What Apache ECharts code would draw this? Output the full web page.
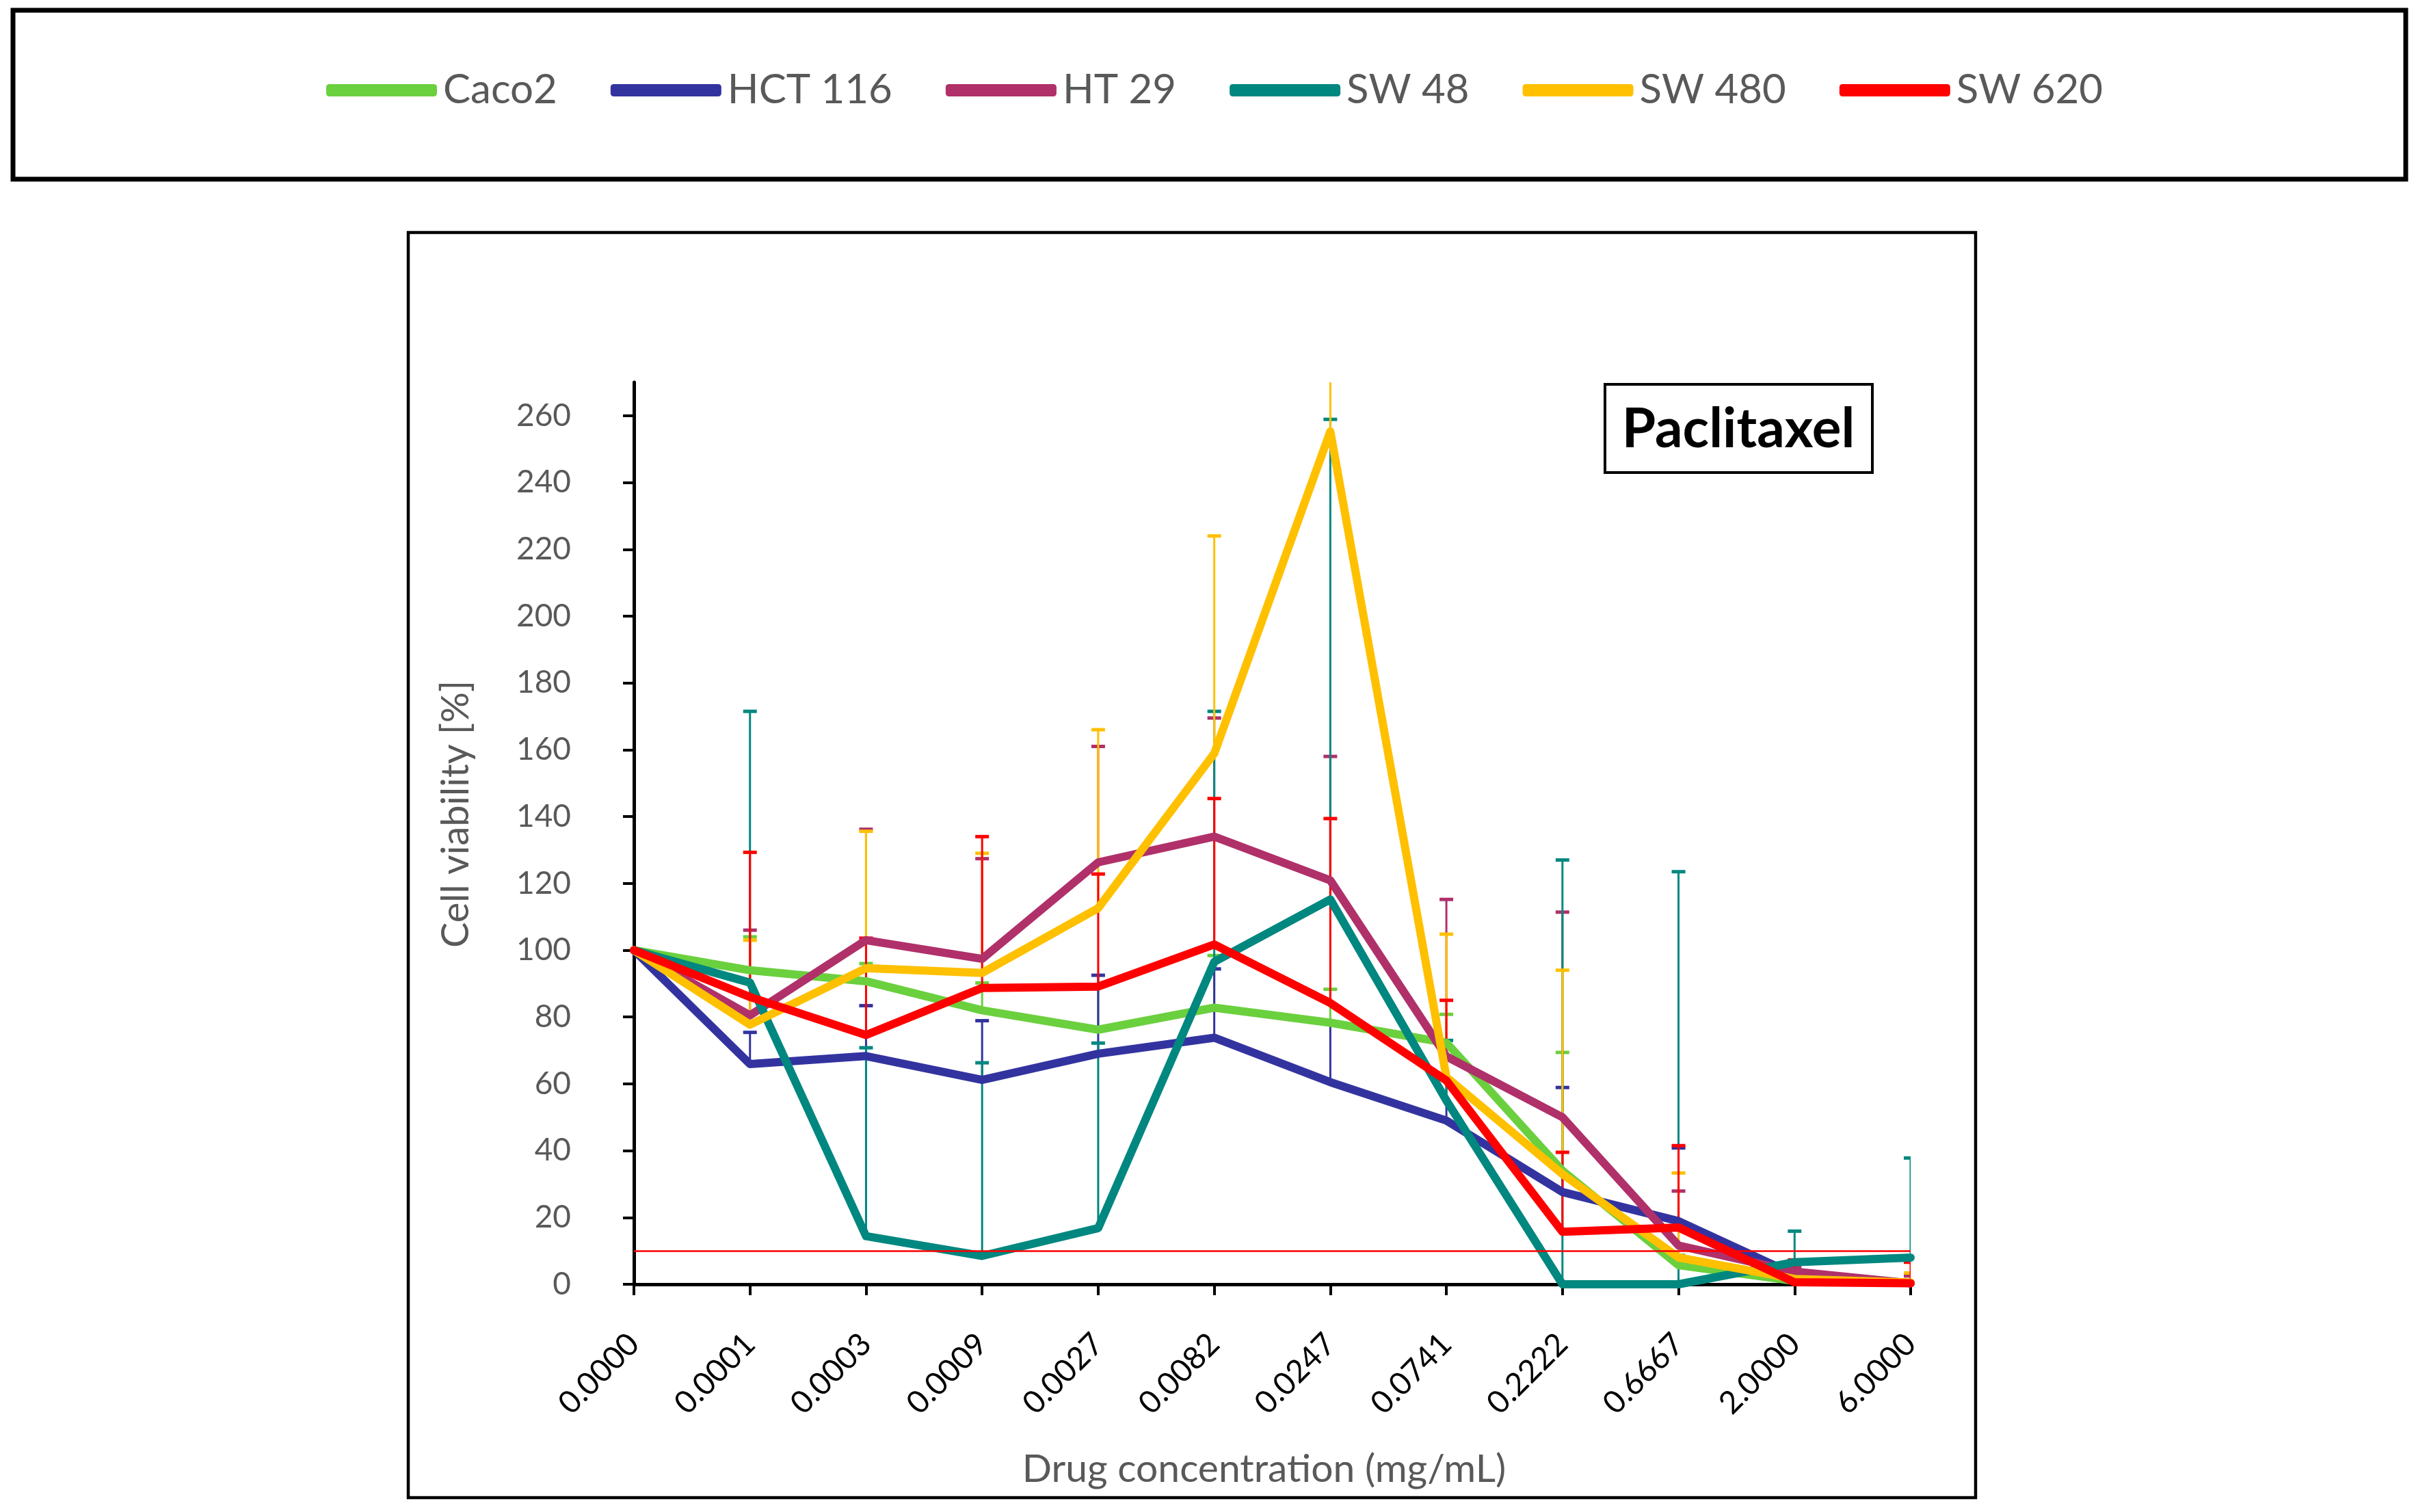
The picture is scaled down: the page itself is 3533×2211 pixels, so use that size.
<!DOCTYPE html>
<html>
<head>
<meta charset="utf-8">
<script src="https://cdn.jsdelivr.net/npm/echarts@6/dist/echarts.min.js"></script>
<style>
  html, body { margin: 0; padding: 0; background: #fff; }
  #chart { width: 3533px; height: 2211px; }
</style>
</head>
<body>
<div id="chart"></div>
<script>
// Concentrations (mg/mL)
const categories = ['0.0000', '0.0001', '0.0003', '0.0009', '0.0027', '0.0082', '0.0247', '0.0741', '0.2222', '0.6667', '2.0000', '6.0000'];
const yTicks = [0, 20, 40, 60, 80, 100, 120, 140, 160, 180, 200, 220, 240, 260];

// Cell viability [%] and plus error per cell line
const caco2     = [100, 94, 90.7, 82, 76.2, 82.8, 78.3, 72.3, 34, 5.7, 1, 0.5];
const caco2Err  = [0, 10, 5.3, 8.2, 13, 15.6, 10, 8.5, 35.4, 3, 0.5, 0.5];
const hct116    = [100, 65.9, 68.3, 61.2, 69, 73.8, 60.5, 49, 27.6, 18.9, 2.9, 0.3];
const hct116Err = [0, 9.5, 15.1, 17.7, 23.5, 20.6, 18.2, 18.8, 31.3, 21.9, 1, 0.5];
const ht29      = [100, 80.5, 103, 97.4, 126.3, 134, 120.9, 68.2, 50, 11.6, 3.8, 0.3];
const ht29Err   = [0, 25.5, 33.2, 30, 34.7, 35.5, 37.1, 47, 61.4, 16.3, 1.2, 2.2];
const sw48      = [100, 90.3, 14.4, 8.5, 16.8, 96.5, 115.2, 55, 0, 0, 6.6, 8];
const sw48Err   = [0, 81.2, 56.4, 57.8, 55.4, 75, 143.7, 18, 127, 123.5, 9.3, 29.8];
const sw480     = [100, 77.7, 94.6, 93.2, 112.6, 158.9, 255.3, 62, 33, 8, 1.6, 0.5];
const sw480Err  = [0, 25.3, 41, 35.8, 53.4, 65.1, 60, 42.8, 61, 25.3, 0.5, 2.9];
const sw620     = [100, 86, 74.6, 88.7, 89.1, 101.7, 84.2, 61, 15.7, 17, 0.6, 0.3];
const sw620Err  = [0, 43.3, 29, 45.3, 33.7, 43.7, 55.2, 24, 23.8, 24.5, 6.7, 6.3];

const threshold = 10;

const lines = [
    { name: 'Caco2',   color: '#6BD03E', values: caco2,  err: caco2Err },
    { name: 'HCT 116', color: '#3333A0', values: hct116, err: hct116Err },
    { name: 'HT 29',   color: '#B0306A', values: ht29,   err: ht29Err },
    { name: 'SW 48',   color: '#00877F', values: sw48,   err: sw48Err },
    { name: 'SW 480',  color: '#FFC000', values: sw480,  err: sw480Err },
    { name: 'SW 620',  color: '#FF0000', values: sw620,  err: sw620Err }
];

const font = 'Lato';
const grey = '#595959';

const myChart = echarts.init(document.getElementById('chart'), null, { renderer: 'canvas', devicePixelRatio: 1 });

// error bars drawn upward only, clipped by the plot area
function errorBars(line) {
    return {
        name: line.name,
        type: 'custom',
        z: 2,
        clip: true,
        silent: true,
        data: line.values.map((v, i) => [i, v, v + line.err[i]]),
        renderItem: function (params, api) {
            const v = api.value(1);
            const top = api.value(2);
            if (top <= v) return null;
            const p0 = api.coord([api.value(0), v]);
            const p1 = api.coord([api.value(0), top]);
            return {
                type: 'group',
                children: [
                    { type: 'line', shape: { x1: p0[0], y1: p0[1], x2: p1[0], y2: p1[1] }, style: { stroke: line.color, lineWidth: 3 } },
                    { type: 'line', shape: { x1: p1[0] - 10, y1: p1[1], x2: p1[0] + 10, y2: p1[1] }, style: { stroke: line.color, lineWidth: 5 } }
                ]
            };
        }
    };
}

let series = [];
lines.forEach(l => series.push(errorBars(l)));
lines.forEach((l, idx) => {
    let s = {
        name: l.name,
        type: 'line',
        z: 3,
        symbol: 'none',
        data: l.values,
        lineStyle: { color: l.color, width: 12, join: 'round', cap: 'round' },
        itemStyle: { color: l.color }
    };
    if (idx === lines.length - 1) {
        s.markLine = {
            silent: true,
            symbol: 'none',
            label: { show: false },
            lineStyle: { color: '#FF0000', width: 2.5, type: 'solid' },
            data: [{ yAxis: threshold }]
        };
    }
    series.push(s);
});

const option = {
    backgroundColor: '#fff',
    animation: false,
    color: lines.map(l => l.color),
    legend: {
        data: lines.map(l => l.name),
        left: 472,
        top: 97,
        icon: 'roundRect',
        itemWidth: 162,
        itemHeight: 18,
        itemGap: 78,
        textStyle: { fontFamily: font, fontSize: 60, color: grey, padding: [0, 0, 0, 4] }
    },
    graphic: [
        { type: 'rect', shape: { x: 19, y: 15, width: 3499, height: 247 }, style: { fill: 'none', stroke: '#000', lineWidth: 7 } },
        { type: 'rect', shape: { x: 597, y: 340, width: 2292, height: 1850 }, style: { fill: 'none', stroke: '#000', lineWidth: 4.5 } },
        { type: 'rect', z: 10, shape: { x: 2347, y: 562, width: 391, height: 129 }, style: { fill: '#fff', stroke: '#000', lineWidth: 4 } },
        { type: 'text', z: 11, x: 2542, y: 628, style: { text: 'Paclitaxel', fontFamily: font, fontWeight: 'bold', fontSize: 80, fill: '#000', align: 'center', verticalAlign: 'middle' } }
    ],
    grid: { left: 927, right: 739, top: 559, bottom: 333, containLabel: false },
    xAxis: {
        type: 'category',
        data: categories,
        boundaryGap: false,
        name: 'Drug concentration (mg/mL)',
        nameLocation: 'middle',
        nameGap: 242,
        nameTextStyle: { fontFamily: font, fontSize: 57, color: grey, padding: [0, 24, 0, 0] },
        axisLine: { lineStyle: { color: '#000', width: 5 } },
        axisTick: { show: true, length: 16, lineStyle: { color: '#000', width: 4 } },
        axisLabel: { rotate: 45, margin: 80, interval: 0, fontFamily: font, fontSize: 46, color: '#000' },
        splitLine: { show: false }
    },
    yAxis: {
        type: 'value',
        min: 0,
        max: 270,
        name: 'Cell viability [%]',
        nameLocation: 'middle',
        nameGap: 232,
        nameTextStyle: { fontFamily: font, fontSize: 56, color: grey, padding: [0, 0, 0, 56] },
        axisLine: { show: true, lineStyle: { color: '#000', width: 5 } },
        axisTick: { show: true, length: 16, customValues: yTicks, lineStyle: { color: '#000', width: 4 } },
        axisLabel: { margin: 92, customValues: yTicks, fontFamily: font, fontSize: 46, color: grey },
        splitLine: { show: false }
    },
    series: series
};

myChart.setOption(option, true);
</script>
</body>
</html>
